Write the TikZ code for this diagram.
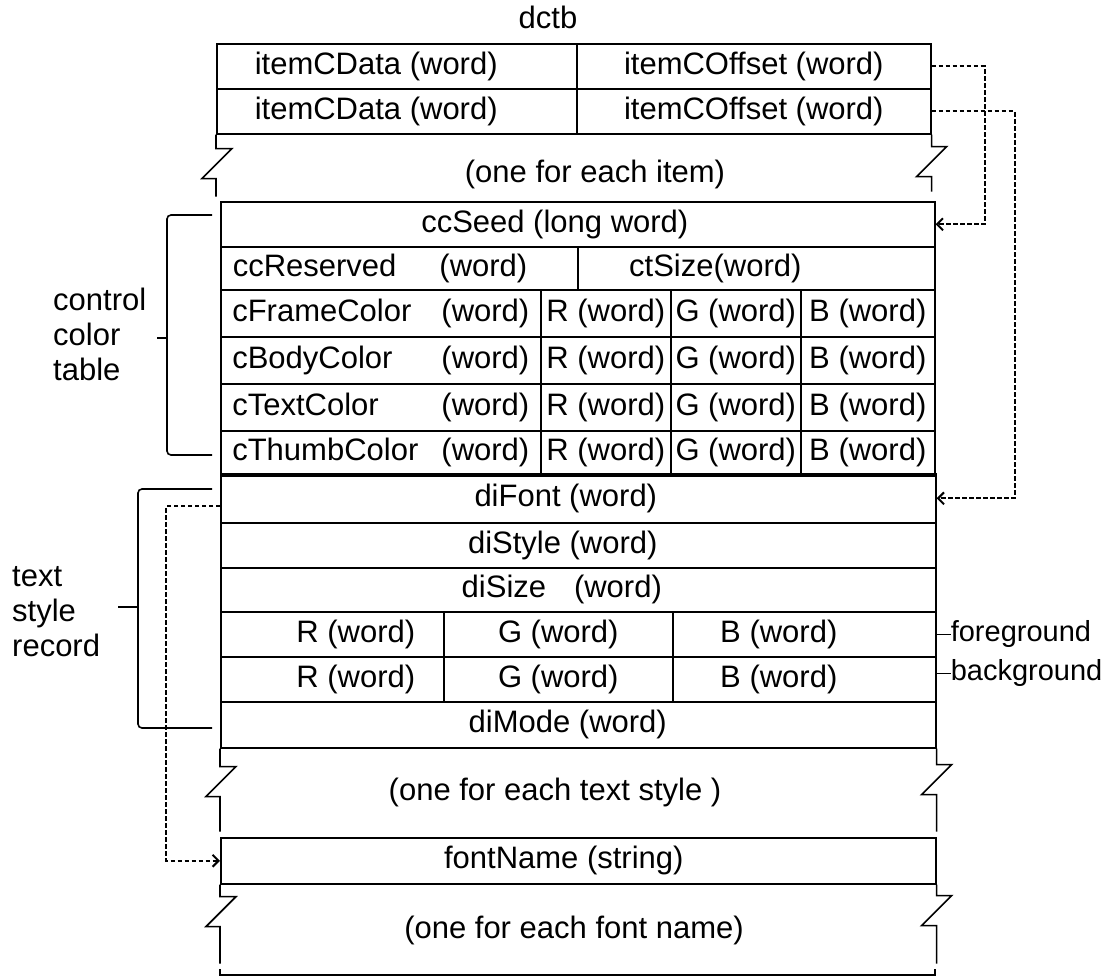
\documentclass[tikz,border=0pt]{standalone}
\usepackage{fontspec}
\setmainfont{Liberation Sans}
\usetikzlibrary{arrows.meta,positioning}

\begin{document}
\begin{tikzpicture}[x=1pt, y=-1pt,
  font=\fontsize{31}{35}\selectfont,
  cell/.style={draw, line width=1.6pt, anchor=north west, inner sep=0pt},
  txt/.style={inner sep=0pt},
  side/.style={line width=1.6pt},
  ptr/.style={line width=2pt, dash pattern=on 4.5pt off 2.5pt,
              -{Straight Barb[length=6pt, width=12pt]}}]
\useasboundingbox (0,0) rectangle (1108,978);

% dctb item list
\node[txt] (dctb) at (548,17) {dctb};
\node[cell, minimum width=360pt, minimum height=45pt] (data1) at (216,43) {\makebox[284pt][l]{itemCData (word)}};
\node[cell, minimum width=354pt, minimum height=45pt] (off1) at (576,43) {itemCOffset (word)};
\node[cell, minimum width=360pt, minimum height=45pt] (data2) at (216,88) {\makebox[284pt][l]{itemCData (word)}};
\node[cell, minimum width=354pt, minimum height=45pt] (off2) at (576,88) {itemCOffset (word)};
\node[txt] (items) at (595,174) {(one for each item)};
\draw[side] (data2.south west) -- ++(0,14) -- ++(16,0) -- ++(-30,30) -- ++(14,0) -- ++(0,18);
\draw[side] (off2.south east) -- ++(0,12) -- ++(15,0) -- ++(-30,30) -- ++(15,0) -- ++(0,15);

% control color table
\node[cell, minimum width=714pt, minimum height=45pt] (seed) at (220,201) {ccSeed (long word)\hspace*{46pt}};
\node[cell, minimum width=357pt, minimum height=43pt] (res) at (220,246) {\makebox[333pt][l]{ccReserved\hspace{43pt}(word)}};
\node[cell, minimum width=357pt, minimum height=43pt] (ctsize) at (577,246) {ctSize(word)\hspace*{82pt}};

\node[cell, minimum width=320pt, minimum height=47pt] (frame) at (220,289) {\makebox[297pt]{cFrameColor\hfill(word)}};
\node[cell, minimum width=130pt, minimum height=47pt] (frameR) at (540,289) {R (word)};
\node[cell, minimum width=130pt, minimum height=47pt] (frameG) at (670,289) {G (word)};
\node[cell, minimum width=134pt, minimum height=47pt] (frameB) at (800,289) {B (word)};

\node[cell, minimum width=320pt, minimum height=47pt] (body) at (220,336) {\makebox[297pt]{cBodyColor\hfill(word)}};
\node[cell, minimum width=130pt, minimum height=47pt] (bodyR) at (540,336) {R (word)};
\node[cell, minimum width=130pt, minimum height=47pt] (bodyG) at (670,336) {G (word)};
\node[cell, minimum width=134pt, minimum height=47pt] (bodyB) at (800,336) {B (word)};

\node[cell, minimum width=320pt, minimum height=47pt] (text) at (220,383) {\makebox[297pt]{cTextColor\hfill(word)}};
\node[cell, minimum width=130pt, minimum height=47pt] (textR) at (540,383) {R (word)};
\node[cell, minimum width=130pt, minimum height=47pt] (textG) at (670,383) {G (word)};
\node[cell, minimum width=134pt, minimum height=47pt] (textB) at (800,383) {B (word)};

\node[cell, minimum width=320pt, minimum height=43pt] (thumb) at (220,430) {\makebox[297pt]{cThumbColor\hfill(word)}};
\node[cell, minimum width=130pt, minimum height=43pt] (thumbR) at (540,430) {R (word)};
\node[cell, minimum width=130pt, minimum height=43pt] (thumbG) at (670,430) {G (word)};
\node[cell, minimum width=134pt, minimum height=43pt] (thumbB) at (800,430) {B (word)};
\draw[line width=4pt] (thumb.south west) -- (thumbB.south east);

\draw[side, rounded corners=4pt] (212,215) -- (167,215) -- (167,455) -- (212,455);
\draw[side] (157,338) -- (167,338);
\node[txt, anchor=west, align=left] (ctlabel) at (53,334) {control\\color\\table};

% text style record
\node[cell, minimum width=715pt, minimum height=49pt] (difont) at (220,473) {diFont (word)\hspace*{25pt}};
\node[cell, minimum width=715pt, minimum height=45pt] (distyle) at (220,522) {diStyle (word)\hspace*{31pt}};
\node[cell, minimum width=715pt, minimum height=44pt] (disize) at (220,567) {diSize\hspace{0.9em}(word)\hspace*{33pt}};
\node[cell, minimum width=223pt, minimum height=45pt] (fgR) at (220,611) {\hspace*{47pt}R (word)};
\node[cell, minimum width=229pt, minimum height=45pt] (fgG) at (443,611) {G (word)};
\node[cell, minimum width=263pt, minimum height=45pt] (fgB) at (672,611) {B (word)\hspace*{51pt}};
\node[cell, minimum width=223pt, minimum height=45pt] (bgR) at (220,656) {\hspace*{47pt}R (word)};
\node[cell, minimum width=229pt, minimum height=45pt] (bgG) at (443,656) {G (word)};
\node[cell, minimum width=263pt, minimum height=45pt] (bgB) at (672,656) {B (word)\hspace*{51pt}};
\node[cell, minimum width=715pt, minimum height=46pt] (dimode) at (220,701) {diMode (word)\hspace*{21pt}};

\node[txt, font=\fontsize{29}{33}\selectfont, right=14pt of fgB.east] (fore) {foreground};
\node[txt, font=\fontsize{29}{33}\selectfont, right=14pt of bgB.east, yshift=6pt] (back) {background};
\draw[side] (fore.west) -- (fore.west -| fgB.east);
\draw[side] (back.west) -- (back.west -| bgB.east);

\draw[side, rounded corners=4pt] (212,489) -- (138,489) -- (138,728) -- (212,728);
\draw[side] (118,607) -- (138,607);
\node[txt, anchor=west, align=left] (tslabel) at (12,612) {text\\style\\record};

\node[txt] (styles) at (555,792) {(one for each text style )};
\draw[side] (dimode.south west) -- ++(0,18) -- ++(16,0) -- ++(-30,30) -- ++(14,0) -- ++(0,35);
\draw[side] (dimode.south east) -- ++(0,16) -- ++(15,0) -- ++(-30,30) -- ++(15,0) -- ++(0,37);

% font names
\node[cell, minimum width=715pt, minimum height=46pt] (fontname) at (220,837) {fontName (string)\hspace*{29pt}};
\node[txt] (names) at (574,930) {(one for each font name)};
\draw[side] (fontname.south west) -- ++(0,12) -- ++(16,0) -- ++(-30,30) -- ++(14,0) -- ++(0,37);
\draw[side] (fontname.south east) -- ++(0,11) -- ++(15,0) -- ++(-30,30) -- ++(15,0) -- ++(0,38);
\draw[side] (220,969) -- (220,975) -- (935,975) -- (935,969);

% offsets
\draw[ptr] (off1.east) -- ++(53,0) |- (seed.east);
\draw[ptr] (off2.east) -- ++(83,0) |- (difont.east);
\draw[ptr] ([yshift=-8pt]difont.west) -- ++(-54,0) |- (fontname.west);
\end{tikzpicture}
\end{document}
